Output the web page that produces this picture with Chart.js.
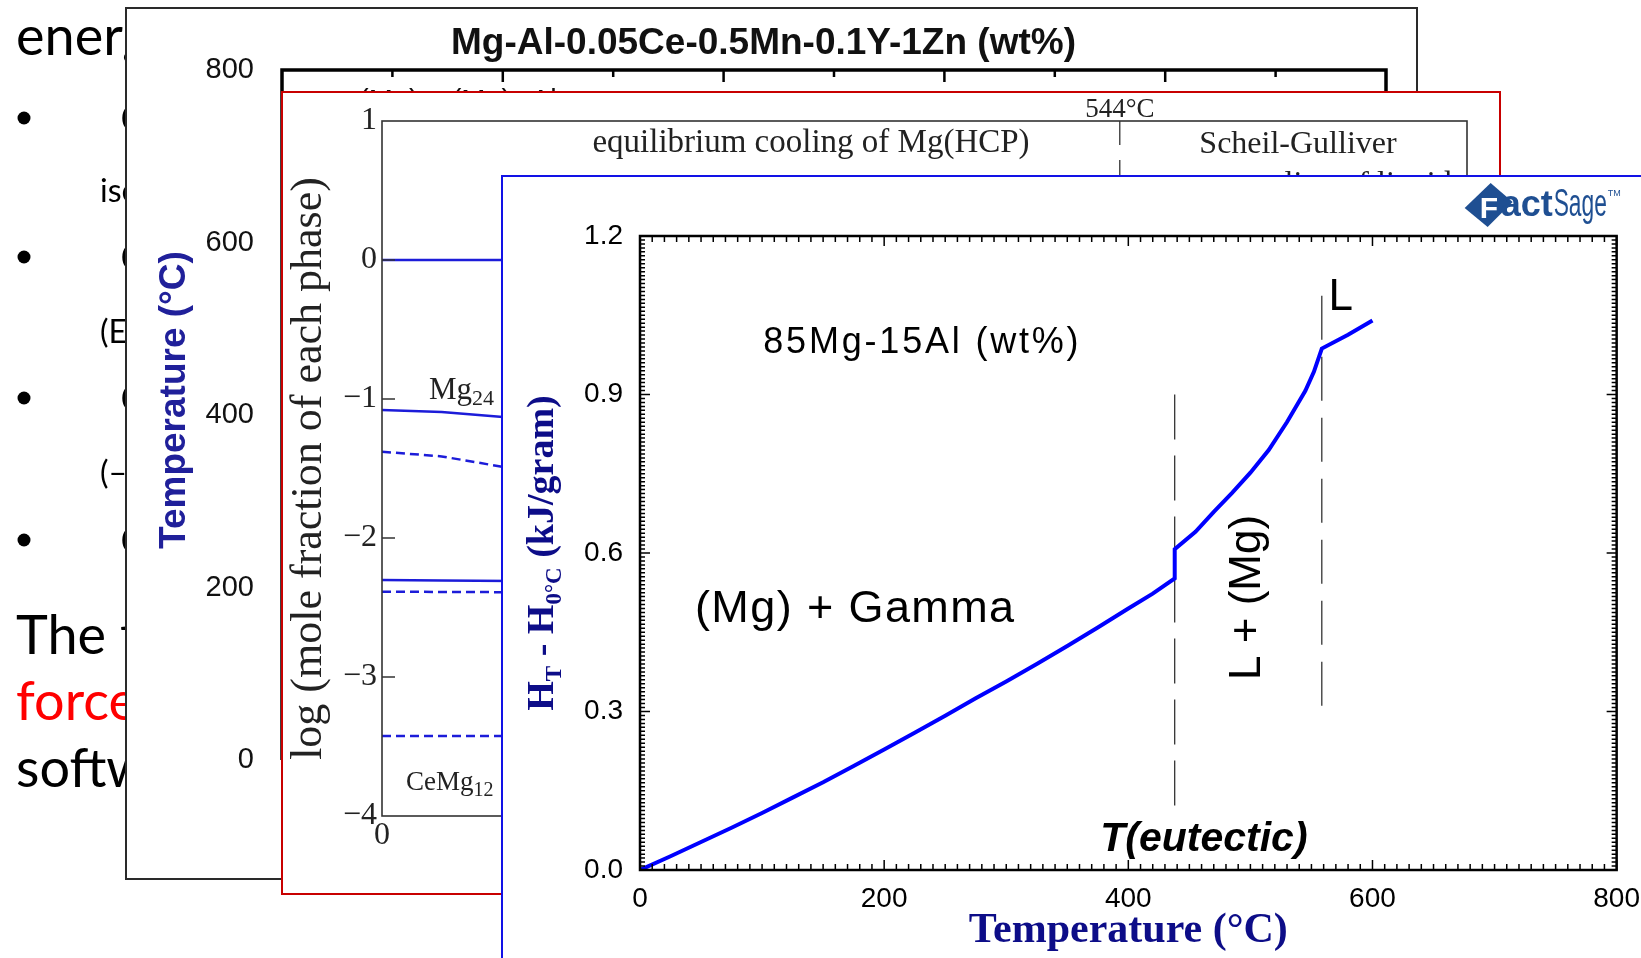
<!DOCTYPE html>
<html>
<head>
<meta charset="utf-8">
<title>85Mg-15Al enthalpy</title>
<script src="https://cdn.jsdelivr.net/npm/chart.js@4.4.1/dist/chart.umd.min.js"></script>
<style>
  html, body { margin: 0; padding: 0; background: #fff; }
  body { width: 1641px; height: 958px; position: relative; overflow: hidden; }
  #slide { position: absolute; left: 0; top: 0; }
  .panel { position: absolute; background: #fff; box-sizing: border-box; }
  .panel canvas { position: absolute; left: -2px; top: -2px; }
  #back { left: 125px; top: 7px; width: 1293px; height: 873px; border: 2px solid #2a2a2a; z-index: 1; }
  #mid { left: 281px; top: 91px; width: 1220px; height: 804px; border: 2px solid #c80000; z-index: 2; }
  #front { left: 501px; top: 175px; width: 1200px; height: 850px; border: 2px solid #1212e6; z-index: 3; }
</style>
</head>
<body>
<canvas id="slide" width="1641" height="958"></canvas>
<div class="panel" id="back"><canvas id="backChart" width="1293" height="873"></canvas></div>
<div class="panel" id="mid"><canvas id="midChart" width="1220" height="804"></canvas></div>
<div class="panel" id="front"><canvas id="mainChart" width="1151" height="783"></canvas></div>
<script>
// main chart: H(T) - H(0 C) of 85Mg-15Al
const tempC = [0, 25, 50, 75, 100, 125, 150, 175, 200, 225, 250, 275, 300, 325, 350, 375, 400, 420, 438, 438, 455, 470, 485, 500, 515, 530, 545, 552, 558.5, 580, 600];
const enthalpy = [0, 0.026, 0.053, 0.080, 0.108, 0.137, 0.166, 0.197, 0.228, 0.260, 0.292, 0.325, 0.357, 0.390, 0.424, 0.459, 0.495, 0.523, 0.552, 0.607, 0.640, 0.678, 0.714, 0.752, 0.795, 0.848, 0.907, 0.943, 0.987, 1.013, 1.040];
const eutecticT = 438;
const eutecticSpan = [0.90, 0.113];
const liquidusT = 558.5;
const liquidusSpan = [1.087, 0.302];

// middle chart: log mole fraction of each phase
const phaseX = [0, 0.055, 0.12];
const logHcp = [0, 0, 0];
const logMg24 = [-1.079, -1.094, -1.135];
const logMg24b = [-1.379, -1.413, -1.50];
const logPhase3 = [-2.302, -2.305, -2.31];
const logPhase3b = [-2.386, -2.388, -2.39];
const logCeMg12 = [-3.424, -3.424, -3.424];
const switchX = 0.68; // 544 C

// back chart
const backTitle = 'Mg-Al-0.05Ce-0.5Mn-0.1Y-1Zn (wt%)';

Chart.defaults.font.family = '"Liberation Sans", Arial, sans-serif';
Chart.defaults.color = '#000';

const pts = (xs, ys) => xs.map((v, i) => ({ x: v, y: ys[i] }));

// start: slide text behind the charts
const s = document.getElementById('slide').getContext('2d');
s.fillStyle = '#000';
s.font = '54px Lato';
s.fillText('energy', 16, 55);
s.fillText('The two', 16, 654);
s.fillText('software', 16, 787);
s.fillStyle = '#ff0000';
s.fillText('forces', 16, 720);
s.fillStyle = '#000';
[118, 257, 398, 540].forEach(cy => {
    s.beginPath(); s.arc(24, cy, 6.5, 0, Math.PI * 2); s.fill();
    s.fillText('c', 120, cy + 14);
});
s.font = '32px Lato';
s.fillText('isobaric', 100, 202);
s.fillText('(Eq. 1)', 100, 343);
s.fillText('(\u2013\u0394G)', 100, 484);
// end: slide text

// start: back chart
const backDecor = {
    id: 'backDecor',
    afterDraw(chart) {
        const { ctx, chartArea: a, scales: { x } } = chart;
        ctx.save();
        ctx.strokeStyle = '#000';
        ctx.lineWidth = 3.5;
        ctx.beginPath();
        ctx.moveTo(a.left, a.bottom); ctx.lineTo(a.left, a.top); ctx.lineTo(a.right, a.top); ctx.lineTo(a.right, a.bottom);
        ctx.stroke();
        ctx.lineWidth = 2.5;
        ctx.beginPath();
        for (let v = 1; v < 10; v++) {
            const px = x.getPixelForValue(v);
            ctx.moveTo(px, a.top); ctx.lineTo(px, a.top + (v % 2 === 0 ? 12 : 7));
        }
        ctx.stroke();
        ctx.fillStyle = '#111';
        ctx.font = '29px "Liberation Sans"';
        ctx.fillText('(Mg) + (Mg)\u2081\u2087Al\u2081\u2082', a.left + 77, a.top + 40);
        // rotated axis title
        ctx.save();
        ctx.translate(a.left - 107, a.top + 330);
        ctx.rotate(-Math.PI / 2);
        ctx.textAlign = 'center';
        ctx.textBaseline = 'middle';
        ctx.fillStyle = '#20209a';
        ctx.font = 'bold 37px "Liberation Sans"';
        ctx.fillText('Temperature (\u00B0C)', 0, 0);
        ctx.restore();
        ctx.restore();
    }
};

new Chart(document.getElementById('backChart'), {
    type: 'line',
    data: { datasets: [] },
    options: {
        responsive: false,
        animation: false,
        layout: { padding: { left: 16, right: 32, top: 0, bottom: 0 } },
        plugins: {
            legend: { display: false },
            tooltip: { enabled: false },
            title: {
                display: true,
                text: backTitle,
                color: '#111',
                font: { size: 37, weight: 'bold', lineHeight: 1.2 },
                padding: { top: 15, bottom: 3.6 }
            }
        },
        scales: {
            x: {
                type: 'linear', min: 0, max: 10,
                ticks: { display: false },
                grid: { display: false, drawTicks: false },
                border: { display: false },
                afterFit(sc) { sc.height = 120 }
            },
            y: {
                min: 0, max: 800,
                ticks: { stepSize: 200, font: { size: 29 }, color: '#111', padding: 28 },
                grid: { display: false, drawTicks: false },
                border: { display: false },
                afterFit(sc) { sc.width = 141 }
            }
        }
    },
    plugins: [backDecor]
});
// end: back chart

// start: middle chart
const midDecor = {
    id: 'midDecor',
    afterDatasetsDraw(chart) {
        const { ctx, chartArea: a, scales: { x, y } } = chart;
        ctx.save();
        ctx.strokeStyle = '#333';
        ctx.lineWidth = 1.6;
        ctx.strokeRect(a.left, a.top, a.right - a.left, a.bottom - a.top);
        ctx.beginPath();
        for (let v = -3; v <= 0; v++) {
            const py = y.getPixelForValue(v);
            ctx.moveTo(a.left, py); ctx.lineTo(a.left + 13, py);
        }
        ctx.stroke();
        ctx.fillStyle = '#222';
        ctx.textAlign = 'center';
        ctx.textBaseline = 'middle';
        ctx.font = '27px "Liberation Serif"';
        ctx.fillText('544\u00B0C', x.getPixelForValue(switchX), a.top - 11);
        ctx.font = '33px "Liberation Serif"';
        ctx.fillText('equilibrium cooling of Mg(HCP)', a.left + 429, a.top + 22);
        ctx.font = '32px "Liberation Serif"';
        ctx.fillText('Scheil-Gulliver', a.left + 916, a.top + 24);
        ctx.fillText('cooling of liquid', a.left + 963, a.top + 64);
        ctx.textAlign = 'left';
        ctx.textBaseline = 'alphabetic';
        ctx.font = '31px "Liberation Serif"';
        ctx.fillText('Mg', a.left + 47, a.top + 278);
        let w = ctx.measureText('Mg').width;
        ctx.font = '22px "Liberation Serif"';
        ctx.fillText('24', a.left + 47 + w, a.top + 284);
        ctx.font = '27px "Liberation Serif"';
        ctx.fillText('CeMg', a.left + 24, a.top + 669);
        w = ctx.measureText('CeMg').width;
        ctx.font = '20px "Liberation Serif"';
        ctx.fillText('12', a.left + 24 + w, a.top + 675);
        ctx.restore();
    }
};

const blueSolid = { borderColor: '#1c1cd9', borderWidth: 2.5, pointRadius: 0 };
const blueDash = { borderColor: '#1c1cd9', borderWidth: 2.5, pointRadius: 0, borderDash: [9, 5] };

new Chart(document.getElementById('midChart'), {
    type: 'line',
    data: {
        datasets: [
            { ...blueSolid, data: pts(phaseX, logHcp) },
            { ...blueSolid, data: pts(phaseX, logMg24) },
            { ...blueDash, data: pts(phaseX, logMg24b) },
            { ...blueSolid, data: pts(phaseX, logPhase3) },
            { ...blueDash, data: pts(phaseX, logPhase3b) },
            { ...blueDash, data: pts(phaseX, logCeMg12) },
            { borderColor: '#222', borderWidth: 1.2, pointRadius: 0, borderDash: [24, 15],
              data: pts([switchX, switchX], [1, -4]) }
        ]
    },
    options: {
        responsive: false,
        animation: false,
        layout: { padding: { left: 0, right: 34, top: 30, bottom: 0 } },
        plugins: { legend: { display: false }, tooltip: { enabled: false } },
        scales: {
            x: {
                type: 'linear', min: 0, max: 1,
                ticks: { stepSize: 0.2, font: { family: '"Liberation Serif"', size: 32 }, color: '#222', padding: 0 },
                grid: { display: false, drawTicks: false },
                border: { display: false },
                afterFit(sc) { sc.height = 79 }
            },
            y: {
                min: -4, max: 1,
                ticks: {
                    stepSize: 1, padding: 5, color: '#222',
                    font: { family: '"Liberation Serif"', size: 32 },
                    callback: v => v < 0 ? '\u2212' + Math.abs(v) : String(v)
                },
                grid: { display: false, drawTicks: false },
                border: { display: false },
                title: {
                    display: true, text: 'log (mole fraction of each phase)', color: '#222',
                    font: { family: '"Liberation Serif"', size: 44, lineHeight: 1 },
                    padding: { top: 6, bottom: 0 }
                },
                afterFit(sc) { sc.width = 101 }
            }
        }
    },
    plugins: [midDecor]
});
// end: middle chart

// start: main chart
function richText(ctx, parts, x, y, angle) {
    ctx.save();
    ctx.translate(x, y);
    ctx.rotate(angle);
    let total = 0;
    parts.forEach(p => { ctx.font = p.font; p.w = ctx.measureText(p.t).width; total += p.w });
    let cx = -total / 2;
    parts.forEach(p => { ctx.font = p.font; ctx.fillText(p.t, cx, p.dy || 0); cx += p.w });
    ctx.restore();
}

const mainDecor = {
    id: 'mainDecor',
    afterDatasetsDraw(chart) {
        const { ctx, chartArea: a, scales: { x, y } } = chart;
        ctx.save();
        // frame + inward ticks
        ctx.strokeStyle = '#000';
        ctx.lineWidth = 2.5;
        ctx.strokeRect(a.left, a.top, a.right - a.left, a.bottom - a.top);
        ctx.lineWidth = 1.5;
        ctx.beginPath();
        for (let v = 0; v <= 800; v += 10) {
            const px = x.getPixelForValue(v), len = v % 200 === 0 ? 10 : 6;
            ctx.moveTo(px, a.bottom); ctx.lineTo(px, a.bottom - len);
            ctx.moveTo(px, a.top); ctx.lineTo(px, a.top + len);
        }
        for (let i = 0; i <= 160; i++) {
            const py = y.getPixelForValue(i * 0.0075), len = i % 40 === 0 ? 10 : 5;
            ctx.moveTo(a.left, py); ctx.lineTo(a.left + len, py);
            ctx.moveTo(a.right, py); ctx.lineTo(a.right - len, py);
        }
        ctx.stroke();

        // labels inside the plot
        ctx.fillStyle = '#000';
        ctx.textBaseline = 'alphabetic';
        ctx.textAlign = 'left';
        ctx.font = '36px "Liberation Sans"';
        ctx.letterSpacing = '2.8px';
        ctx.fillText('85Mg-15Al (wt%)', x.getPixelForValue(101), y.getPixelForValue(0.978));
        ctx.font = '45px "Liberation Sans"';
        ctx.letterSpacing = '1.4px';
        ctx.fillText('(Mg) + Gamma', x.getPixelForValue(45), y.getPixelForValue(0.469));
        ctx.letterSpacing = '0px';
        ctx.font = '44px "Liberation Sans"';
        ctx.fillText('L', x.getPixelForValue(564), y.getPixelForValue(1.06));
        ctx.save();
        ctx.translate(x.getPixelForValue(508), y.getPixelForValue(0.516));
        ctx.rotate(-Math.PI / 2);
        ctx.textAlign = 'center';
        ctx.fillText('L + (Mg)', 0, 0);
        ctx.restore();
        ctx.font = 'italic bold 41px "Liberation Sans"';
        ctx.fillText('T(eutectic)', x.getPixelForValue(377), y.getPixelForValue(0.036));

        // y axis title with subscripts
        ctx.fillStyle = '#0d0d88';
        const big = 'bold 38px "Liberation Serif"', small = 'bold 23px "Liberation Serif"';
        richText(ctx, [
            { t: 'H', font: big }, { t: 'T', font: small, dy: 8 },
            { t: ' - H', font: big }, { t: '0\u00B0C', font: small, dy: 8 },
            { t: ' (kJ/gram)', font: big }
        ], a.left - 87, (a.top + a.bottom) / 2, -Math.PI / 2);

        // FactSage logo
        const lx = a.right - 152, ly = a.top - 28;
        ctx.fillStyle = '#1f4f92';
        ctx.beginPath();
        ctx.moveTo(lx, ly); ctx.lineTo(lx + 26, ly - 25); ctx.lineTo(lx + 48, ly - 6); ctx.lineTo(lx + 23, ly + 19);
        ctx.closePath(); ctx.fill();
        ctx.fillStyle = '#fff';
        ctx.font = 'bold 30px "Liberation Sans"';
        ctx.fillText('F', lx + 15, ly + 10);
        ctx.fillStyle = '#1f4f92';
        ctx.font = 'bold 36px "Liberation Sans"';
        ctx.fillText('act', lx + 36, ly + 8);
        ctx.save();
        ctx.translate(lx + 89, ly + 8);
        ctx.scale(0.6, 1);
        ctx.font = '38px "Liberation Sans"';
        ctx.fillText('Sage', 0, 0);
        ctx.restore();
        ctx.font = '9px "Liberation Sans"';
        ctx.fillText('TM', lx + 143, ly - 12);
        ctx.restore();
    }
};

new Chart(document.getElementById('mainChart'), {
    type: 'line',
    data: {
        datasets: [
            { data: pts(tempC, enthalpy), borderColor: '#0000ff', borderWidth: 4, pointRadius: 0, tension: 0, order: 0 },
            { data: pts([eutecticT, eutecticT], eutecticSpan), borderColor: '#222', borderWidth: 1.2, pointRadius: 0, borderDash: [45, 16], order: 1 },
            { data: pts([liquidusT, liquidusT], liquidusSpan), borderColor: '#222', borderWidth: 1.2, pointRadius: 0, borderDash: [44, 17], order: 1 }
        ]
    },
    options: {
        responsive: false,
        animation: false,
        layout: { padding: { left: 0, right: 0, top: 61, bottom: 0 } },
        plugins: { legend: { display: false }, tooltip: { enabled: false } },
        scales: {
            x: {
                type: 'linear', min: 0, max: 800,
                ticks: { stepSize: 200, font: { size: 28 }, padding: 12 },
                grid: { display: false, drawTicks: false },
                border: { display: false },
                title: {
                    display: true, text: 'Temperature (\u00B0C)', color: '#0d0d88',
                    font: { family: '"Liberation Serif"', size: 42, weight: 'bold', lineHeight: 1 },
                    padding: { top: 0, bottom: 6 }
                },
                afterFit(sc) { sc.height = 88 }
            },
            y: {
                min: 0, max: 1.2,
                ticks: { stepSize: 0.3, font: { size: 28 }, padding: 17, callback: v => v.toFixed(1) },
                grid: { display: false, drawTicks: false },
                border: { display: false },
                afterFit(sc) { sc.width = 139 }
            }
        }
    },
    plugins: [mainDecor]
});
// end: main chart
</script>
</body>
</html>
